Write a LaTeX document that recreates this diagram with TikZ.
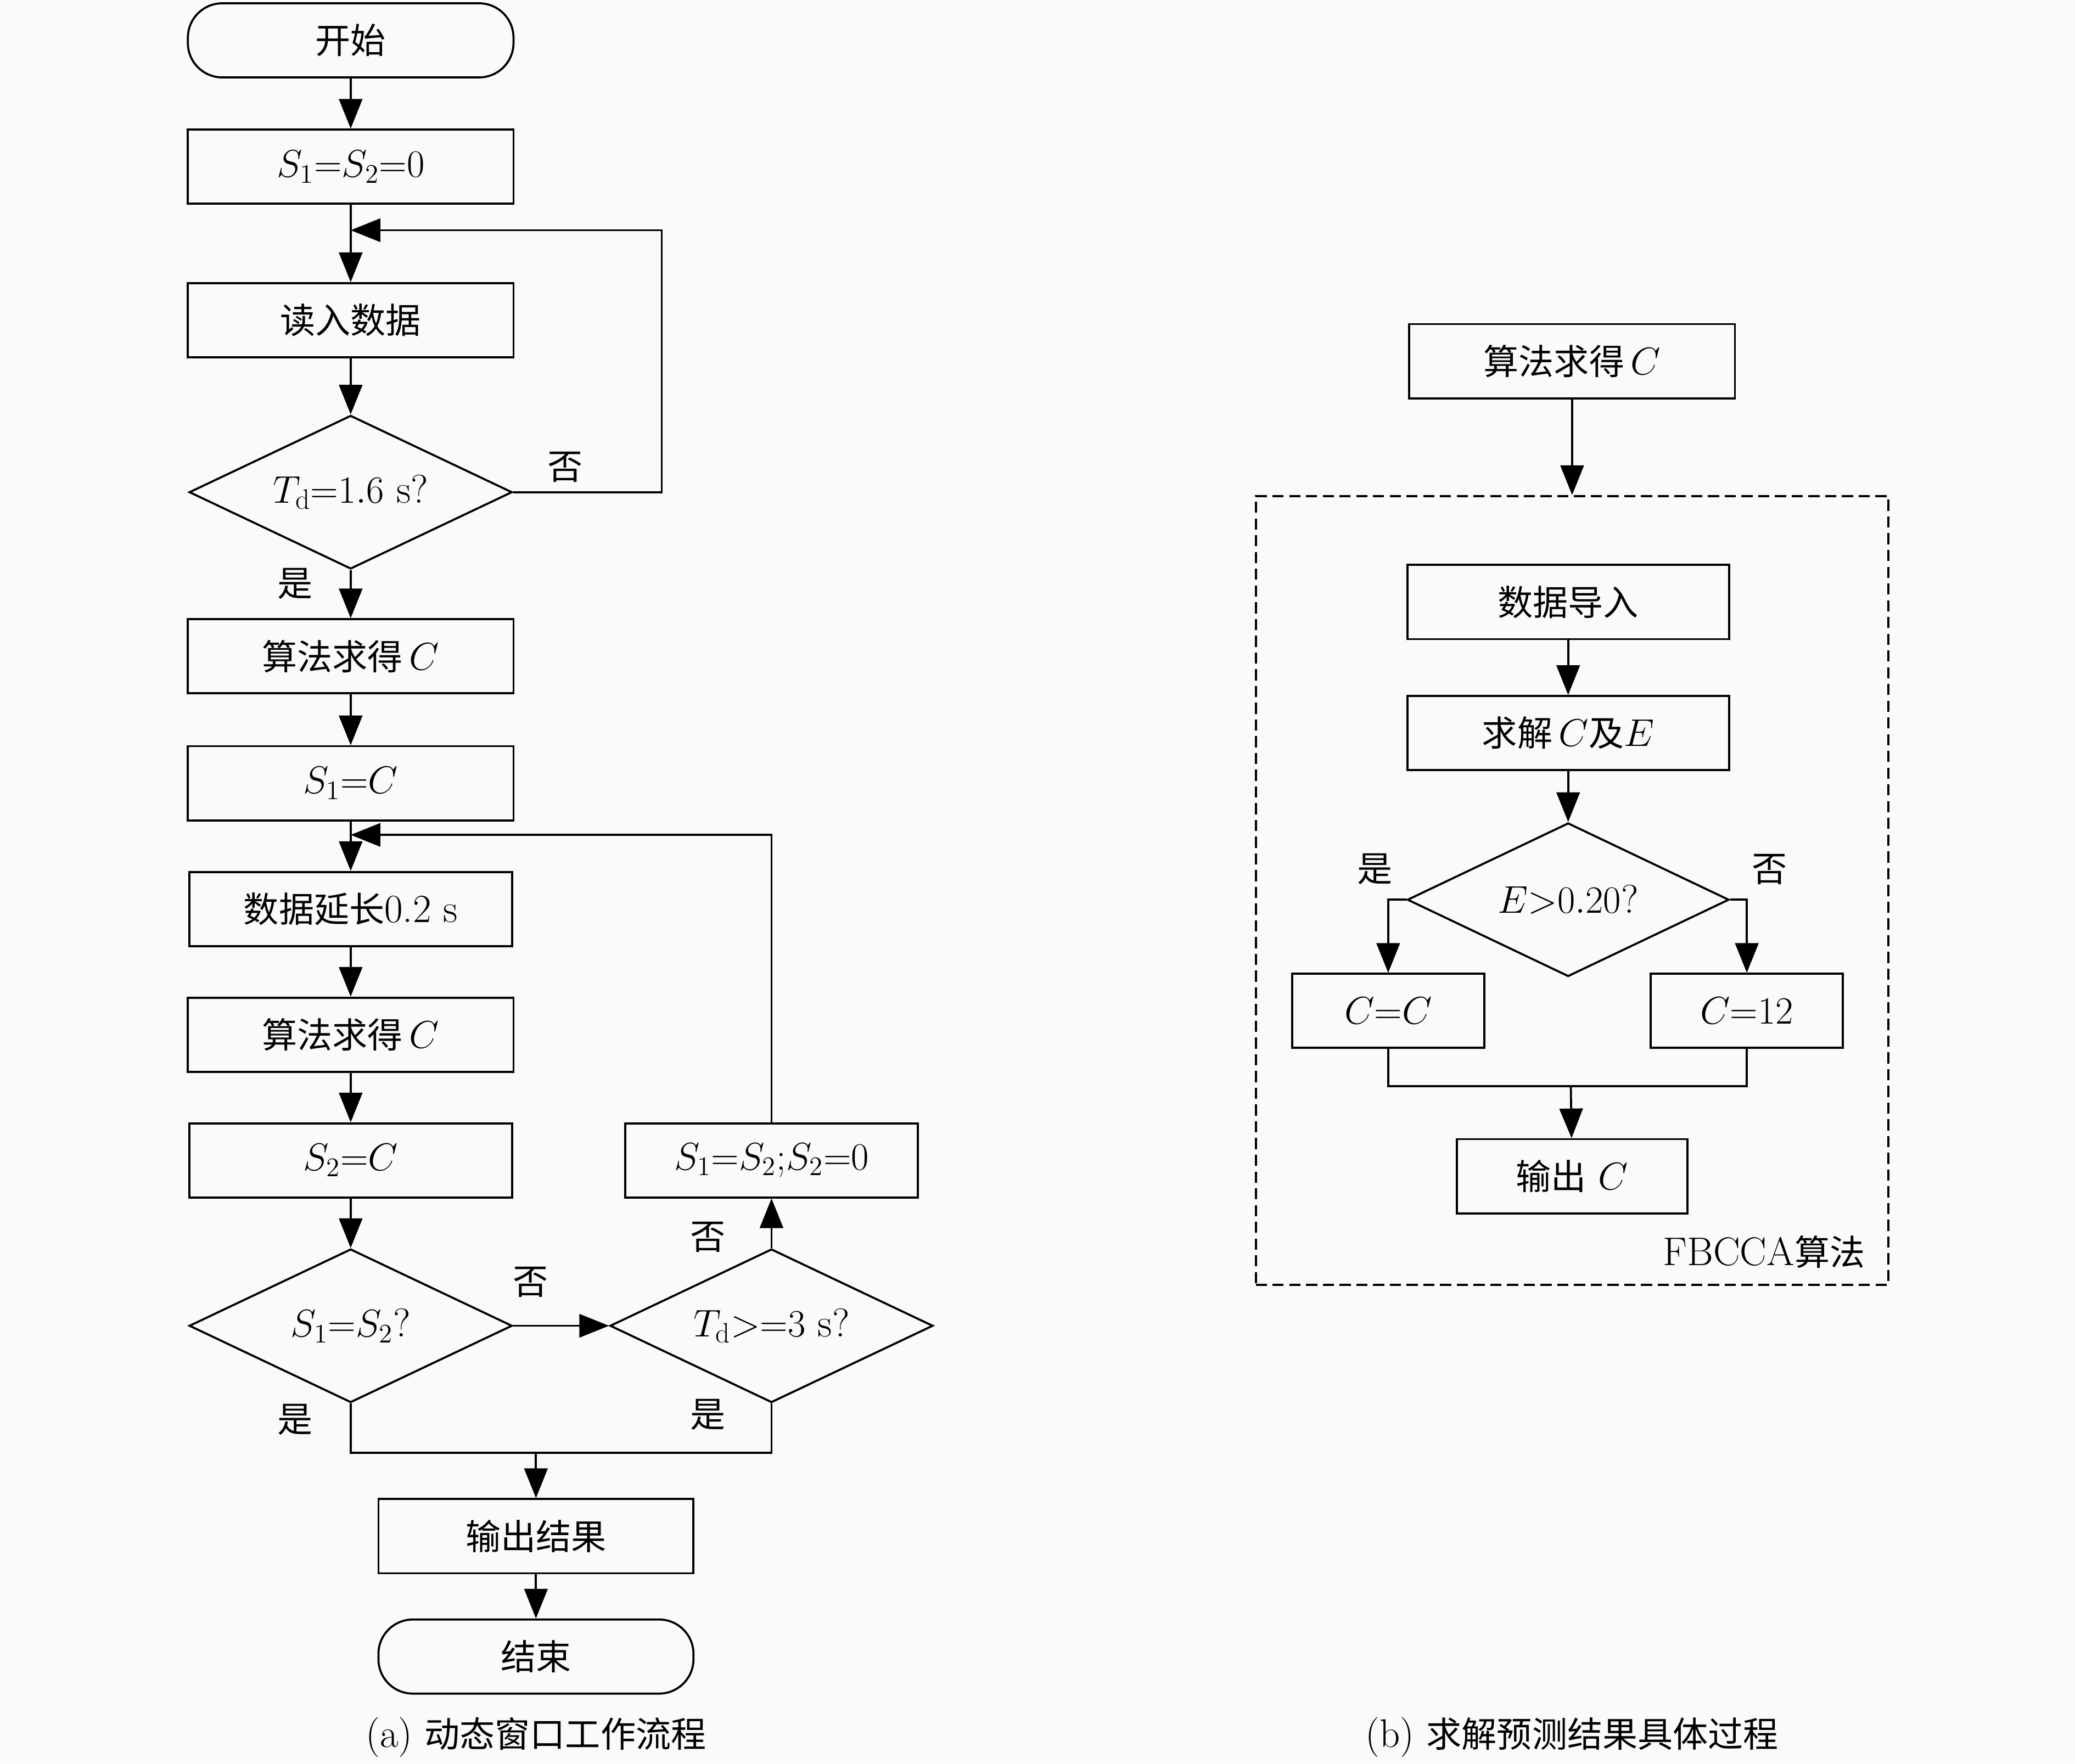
\documentclass[tikz,border=0pt]{standalone}
\usepackage{fontspec}
\newfontfamily\cjk[Scale=0.88]{Noto Sans CJK SC}
\usepackage{tikz}
\usetikzlibrary{arrows.meta,shapes.geometric,positioning,calc}
\definecolor{bgGray}{RGB}{250,250,250}
\tikzset{
  procBox/.style={draw,rectangle,line width=1.1pt,minimum width=6.15cm,minimum height=1.4cm,inner sep=0pt},
  termBox/.style={procBox,rounded corners=0.65cm},
  decBox/.style={draw,diamond,line width=1.1pt,minimum width=6.1cm,minimum height=2.9cm,inner sep=0pt,aspect=2.1},
  flowArrow/.style={-{Triangle[length=5.6mm,width=4.4mm]},line width=1.1pt},
  flowLine/.style={line width=1.1pt},
  yesNo/.style={inner sep=0pt},
  frameBox/.style={draw,dash pattern=on 6pt off 3pt,line width=1.1pt,inner sep=0pt},
}
\newcommand{\zh}[1]{{\cjk #1}}

\begin{document}
\begin{tikzpicture}[x=0.025cm,y=-0.025cm,font=\fontsize{21.5}{25}\selectfont]
  \fill[bgGray] (0,0) rectangle (1568,1333);

  % (a) dynamic window
  \node[termBox] at (265,30.5) (start) {\zh{开始}};
  \node[procBox] at (265,126) (init) {$S_1{=}S_2{=}0$};
  \node[procBox] at (265,242) (read) {\zh{读入数据}};
  \node[decBox] at (265,372) (tWin) {$T_{\mathrm{d}}{=}1.6$ s?};
  \node[procBox] at (265,496) (algA) {\zh{算法求得}$\,C$};
  \node[procBox] at (265,592) (setA) {$S_1{=}C$};
  \node[procBox,minimum width=6.1cm] at (265,687) (extend) {\zh{数据延长}0.2 s};
  \node[procBox] at (265,782) (algB) {\zh{算法求得}$\,C$};
  \node[procBox,minimum width=6.1cm] at (265,877) (setB) {$S_2{=}C$};
  \node[decBox] at (265,1002) (same) {$S_1{=}S_2$?};
  \node[decBox] at (583,1002) (tMax) {$T_{\mathrm{d}}{>}{=}3$ s?};
  \node[procBox,minimum width=5.525cm] at (583,877) (reset) {$S_1{=}S_2{;}S_2{=}0$};
  \node[procBox,minimum width=5.95cm] at (405,1161) (result) {\zh{输出结果}};
  \node[termBox,minimum width=5.95cm] at (405,1252) (stop) {\zh{结束}};
  \coordinate (joinA) at (265,174);
  \coordinate (joinB) at (265,631);
  \coordinate (mergeA) at (405,1098);

  \node[yesNo] at (427,353) (noA) {\zh{否}};
  \node[yesNo] at (223,441) (yesA) {\zh{是}};
  \node[yesNo] at (401,969) (noB) {\zh{否}};
  \node[yesNo] at (535,935) (noC) {\zh{否}};
  \node[yesNo] at (223,1073) (yesB) {\zh{是}};
  \node[yesNo] at (535,1069) (yesC) {\zh{是}};

  \draw[flowArrow] (start) -- (init);
  \draw[flowArrow] (init) -- (read);
  \draw[flowArrow] (read) -- (tWin);
  \draw[flowArrow] (tWin.east) -- (500,372) |- (joinA);
  \draw[flowArrow] (tWin) -- (algA);
  \draw[flowArrow] (algA) -- (setA);
  \draw[flowArrow] (setA) -- (extend);
  \draw[flowArrow] (extend) -- (algB);
  \draw[flowArrow] (algB) -- (setB);
  \draw[flowArrow] (setB) -- (same);
  \draw[flowArrow] (same.east) -- (tMax.west);
  \draw[flowArrow] (tMax) -- (reset);
  \draw[flowArrow] (reset.north) |- (joinB);
  \draw[flowLine] (same.south) |- (mergeA) -| (tMax.south);
  \draw[flowArrow] (mergeA) -- (result);
  \draw[flowArrow] (result) -- (stop);

  \node at (405,1313) (capA) {(a) \zh{动态窗口工作流程}};

  % (b) solving C
  \node[procBox] at (1188,273) (algR) {\zh{算法求得}$\,C$};
  \node[frameBox,minimum width=11.95cm,minimum height=14.9cm] at (1188,673) (fbcca) {};
  \node[procBox,minimum width=6.075cm] at (1185,455) (load) {\zh{数据导入}};
  \node[procBox,minimum width=6.075cm] at (1185,554) (solve) {\zh{求解}$\,C$\zh{及}$E$};
  \node[decBox,minimum width=6.075cm] at (1185,680) (eTest) {$E{>}0.20$?};
  \node[procBox,minimum width=3.625cm] at (1049,764) (keepC) {$C{=}C$};
  \node[procBox,minimum width=3.625cm] at (1320,764) (fixC) {$C{=}12$};
  \node[procBox,minimum width=4.35cm] at (1188,889) (outC) {\zh{输出}~$C$};
  \coordinate (mergeB) at (1187,821);

  \node[yesNo] at (1039,657) (yesD) {\zh{是}};
  \node[yesNo] at (1337,657) (noD) {\zh{否}};
  \node[yesNo] at (1333,946) (algName) {FBCCA\zh{算法}};

  \draw[flowArrow] (algR) -- (fbcca.north);
  \draw[flowArrow] (load) -- (solve);
  \draw[flowArrow] (solve) -- (eTest);
  \draw[flowArrow] (eTest.west) -| (keepC.north);
  \draw[flowArrow] (eTest.east) -| (fixC.north);
  \draw[flowLine] (keepC.south) |- (mergeB) -| (fixC.south);
  \draw[flowArrow] (mergeB) -- (outC);

  \node at (1188,1313) (capB) {(b) \zh{求解预测结果具体过程}};
\end{tikzpicture}
\end{document}
